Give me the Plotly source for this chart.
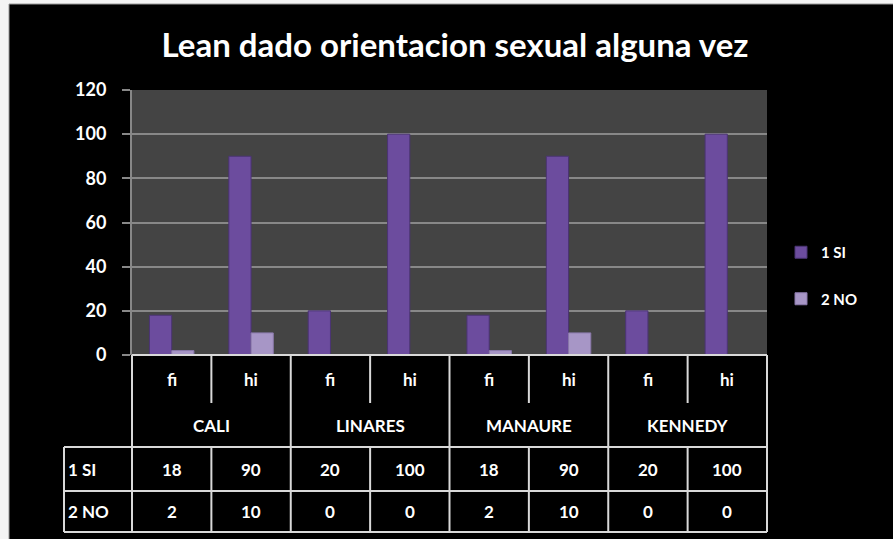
import plotly.graph_objects as go

# ---- data ----
cities = ["CALI", "LINARES", "MANAURE", "KENNEDY"]
measures = ["fi", "hi"]
series_names = ["1 SI", "2 NO"]
si_values = [18, 90, 20, 100, 18, 90, 20, 100]
no_values = [2, 10, 0, 0, 2, 10, 0, 0]
y_ticks = [0, 20, 40, 60, 80, 100, 120]
title_text = "Lean dado orientacion sexual alguna vez"

W, H = 893, 539
L, R, T, B = 132, 126, 90, 184
PW, PH = W - L - R, H - T - B

FONT = "Lato"
WHITE = "#ffffff"
LINE = "#d9d9d9"
C_SI = "#6c4c9e"
C_NO = "#a796c6"

x_idx = list(range(len(si_values)))
ncat = len(si_values)

fig = go.Figure()
fig.add_trace(go.Bar(x=x_idx, y=si_values, name=series_names[0], legendgroup="a",
                     marker=dict(color=C_SI, line=dict(color="#4b3474", width=1))))
fig.add_trace(go.Bar(x=x_idx, y=no_values, name=series_names[1], legendgroup="b",
                     marker=dict(color=C_NO, line=dict(color="#8a79ab", width=1))))


def px_y(py):
    return (H - B - py) / PH


def px_x(px):
    return (px - L) / PW


shapes = []
annotations = []

# frame strips on the left and top edges
shapes.append(dict(type="rect", xref="paper", yref="paper", x0=px_x(0), x1=px_x(9),
                   y0=px_y(H), y1=px_y(0), fillcolor="#f4f4f4", line=dict(width=0)))
shapes.append(dict(type="rect", xref="paper", yref="paper", x0=px_x(0), x1=px_x(W),
                   y0=px_y(4), y1=px_y(0), fillcolor="#f4f4f4", line=dict(width=0)))
shapes.append(dict(type="line", xref="paper", yref="paper", x0=px_x(9), x1=px_x(9),
                   y0=px_y(4), y1=px_y(H), line=dict(color="#9a9a9a", width=1)))
shapes.append(dict(type="line", xref="paper", yref="paper", x0=px_x(9), x1=px_x(W),
                   y0=px_y(4), y1=px_y(4), line=dict(color="#9a9a9a", width=1)))

# data table
y_top = 0
y_mid = px_y(403)
y_city = px_y(447)
y_r1 = px_y(491)
y_r2 = px_y(532)
x_left = px_x(64)
lw = dict(color=LINE, width=2)


def hline(x0, x1, y):
    shapes.append(dict(type="line", xref="paper", yref="paper", x0=x0, x1=x1, y0=y, y1=y, line=lw))


def vline(x, y0, y1):
    shapes.append(dict(type="line", xref="paper", yref="paper", x0=x, x1=x, y0=y0, y1=y1, line=lw))


hline(0, 1, y_top)
hline(x_left, 1, y_city)
hline(x_left, 1, y_r1)
hline(x_left, 1, y_r2)
vline(x_left, y_city, y_r2)
for i in range(ncat + 1):
    xf = i / ncat
    if i % 2 == 0:
        vline(xf, y_top, y_r2)
    else:
        vline(xf, y_top, y_mid)
        vline(xf, y_city, y_r2)

tfont = dict(family=FONT, size=17, color=WHITE, weight="bold")


def ann(x, y, text, xanchor="center"):
    annotations.append(dict(x=x, y=y, xref="paper", yref="paper", text=text, showarrow=False,
                            xanchor=xanchor, yanchor="middle", font=tfont))


for i in range(ncat):
    xc = (i + 0.5) / ncat
    ann(xc, (y_top + y_mid) / 2, measures[i % 2])
    ann(xc, (y_city + y_r1) / 2, str(si_values[i]))
    ann(xc, (y_r1 + y_r2) / 2, str(no_values[i]))
for j, c in enumerate(cities):
    ann((2 * j + 1) / ncat, (y_mid + y_city) / 2, c)
ann(px_x(66), (y_city + y_r1) / 2, series_names[0], "left")
ann(px_x(66), (y_r1 + y_r2) / 2, series_names[1], "left")

fig.update_layout(
    width=W, height=H,
    margin=dict(l=L, r=R, t=T, b=B),
    paper_bgcolor="#000000",
    plot_bgcolor="#444444",
    barmode="group", bargap=0.44, bargroupgap=0,
    title=dict(text="<b>" + title_text + "</b>", x=455 / W, xanchor="center",
               y=1 - 45 / H, yanchor="middle",
               font=dict(family=FONT, size=33, color=WHITE)),
    xaxis=dict(range=[-0.5, ncat - 0.5], showticklabels=False, showgrid=False,
               zeroline=False, showline=False, ticks=""),
    yaxis=dict(range=[0, 120], tickvals=y_ticks, showgrid=True, gridcolor="#888888",
               gridwidth=2, zeroline=False, showline=True, linecolor="#888888", linewidth=2,
               ticks="outside", ticklen=8, tickcolor="#888888", tickwidth=2,
               ticklabelstandoff=12,
               tickfont=dict(family=FONT, size=18, color=WHITE, weight="bold")),
    legend=dict(x=px_x(781), y=px_y(236), xanchor="left", yanchor="top",
                font=dict(family=FONT, size=15, color=WHITE, weight="bold"),
                bgcolor="rgba(0,0,0,0)", tracegroupgap=24, itemwidth=30),
    shapes=shapes,
    annotations=annotations,
)

fig.write_html("out.html", config={"displayModeBar": False},
               post_script="document.body.style.margin='0';")
